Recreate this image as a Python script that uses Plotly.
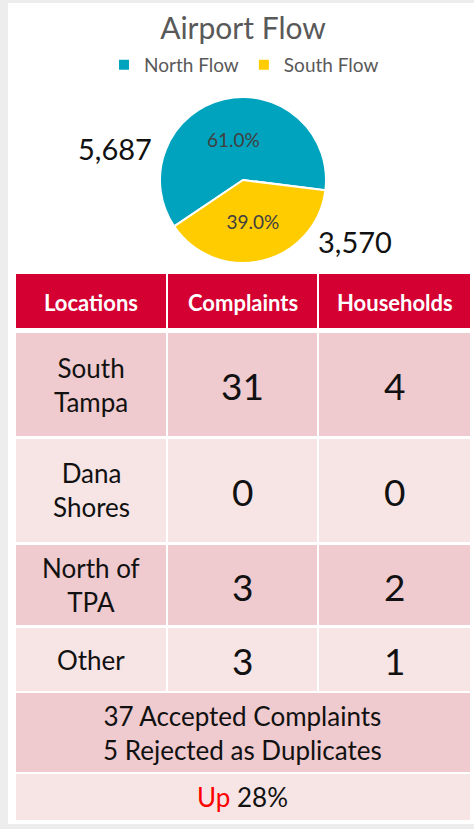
import plotly.graph_objects as go

# ---------------- data ----------------
flow_labels = ["North Flow", "South Flow"]
flow_counts = [5687, 3570]
flow_pct_text = ["61.0%", "39.0%"]

table_headers = ["Locations", "Complaints", "Households"]
locations = ["South<br>Tampa", "Dana<br>Shores", "North of<br>TPA", "Other"]
complaints = [31, 0, 3, 3]
households = [4, 0, 2, 1]
summary_lines = ["37 Accepted Complaints", "5 Rejected as Duplicates"]
change_word = "Up"
change_value = "28%"

# ---------------- geometry / style ----------------
W, H = 474, 829
FONT = "Lato"
TEAL = "#00A3BE"
YELLOW = "#FFCC00"
CRIMSON = "#D40032"
DARK_ROW = "#EFCACE"
LIGHT_ROW = "#F7E5E6"


def px(x):
    return x / W


def py(y):
    return 1 - y / H


def rect(x0, y0, x1, y1, color):
    return dict(type="rect", xref="paper", yref="paper",
                x0=px(x0), x1=px(x1), y0=py(y1), y1=py(y0),
                fillcolor=color, line=dict(width=0), layer="below")


def text(x, y, s, size, color="#111111", bold=False):
    if bold:
        s = "<b>" + s + "</b>"
    return dict(xref="paper", yref="paper", x=px(x), y=py(y), text=s,
                showarrow=False, xanchor="center", yanchor="middle",
                font=dict(family=FONT, size=size, color=color))


fig = go.Figure()

fig.add_trace(go.Pie(
    labels=flow_labels,
    values=flow_counts,
    text=flow_pct_text,
    texttemplate="%{text}",
    textinfo="text",
    textposition="inside",
    insidetextorientation="horizontal",
    textfont=dict(family=FONT, size=19, color="#404040"),
    sort=False,
    direction="clockwise",
    rotation=236,
    marker=dict(colors=[TEAL, YELLOW], line=dict(color="white", width=2)),
    domain=dict(x=[px(160), px(326)], y=[py(263), py(97)]),
    hoverinfo="label+value+percent",
))

shapes = []
annotations = []

# white panel
shapes.append(rect(8, 3, 474, 824, "white"))

# table columns
cols = [(16, 166), (168, 317), (319, 470)]
header_y = (274, 328)
rows_y = [(333, 436), (439, 542), (545, 625), (628, 691)]
row_colors = [DARK_ROW, LIGHT_ROW, DARK_ROW, LIGHT_ROW]
summary_y = (693, 772)
change_y = (774, 820)

for (x0, x1), h in zip(cols, table_headers):
    shapes.append(rect(x0, header_y[0], x1, header_y[1], CRIMSON))
    annotations.append(text((x0 + x1) / 2, (header_y[0] + header_y[1]) / 2 + 1,
                            h, 22, "white", bold=True))

for i, (y0, y1) in enumerate(rows_y):
    for (x0, x1) in cols:
        shapes.append(rect(x0, y0, x1, y1, row_colors[i]))
    cy = (y0 + y1) / 2
    annotations.append(text((cols[0][0] + cols[0][1]) / 2, cy, locations[i], 26))
    annotations.append(text((cols[1][0] + cols[1][1]) / 2, cy + 1, str(complaints[i]), 37))
    annotations.append(text((cols[2][0] + cols[2][1]) / 2, cy + 1, str(households[i]), 37))

shapes.append(rect(cols[0][0], summary_y[0], cols[2][1], summary_y[1], DARK_ROW))
annotations.append(text((cols[0][0] + cols[2][1]) / 2, (summary_y[0] + summary_y[1]) / 2,
                        "<br>".join(summary_lines), 26))

shapes.append(rect(cols[0][0], change_y[0], cols[2][1], change_y[1], LIGHT_ROW))
annotations.append(text((cols[0][0] + cols[2][1]) / 2, (change_y[0] + change_y[1]) / 2,
                        f"<span style='color:#FF0000'>{change_word}</span> {change_value}", 26))

# outside count labels
annotations.append(text(115, 148, f"{flow_counts[0]:,}", 29, "#111111"))
annotations.append(text(355, 241, f"{flow_counts[1]:,}", 29, "#111111"))

fig.update_layout(
    width=W, height=H,
    margin=dict(l=0, r=0, t=0, b=0),
    paper_bgcolor="#EDEDED",
    plot_bgcolor="white",
    title=dict(text="Airport Flow", x=px(243), y=py(28), xanchor="center", yanchor="middle",
               font=dict(family=FONT, size=30, color="#595959")),
    showlegend=True,
    legend=dict(orientation="h", x=px(244), y=py(65), xanchor="center", yanchor="middle",
                font=dict(family=FONT, size=19, color="#595959"),
                bgcolor="rgba(0,0,0,0)", itemwidth=30),
    shapes=shapes,
    annotations=annotations,
)

fig.write_html("out.html",
               config={"displayModeBar": False},
               post_script="document.body.style.margin='0';document.body.style.overflow='hidden';")
